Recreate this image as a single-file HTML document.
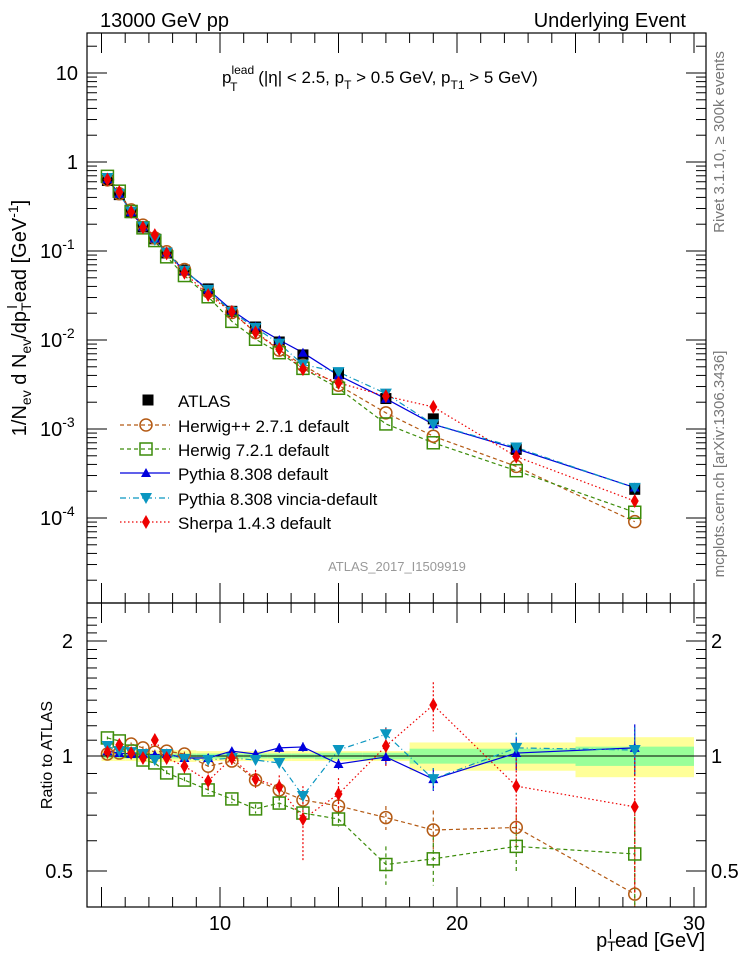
<!DOCTYPE html>
<html><head><meta charset="utf-8"><style>
html,body{margin:0;padding:0;background:#fff;overflow:hidden;}
svg{display:block;font-family:"Liberation Sans",Arial,sans-serif;}
</style></head><body>
<svg id="chart" width="746" height="972" viewBox="0 0 746 972">
<rect width="746" height="972" fill="#fff"/>
<g id="bands"></g>
<g id="lines"></g>
<g id="marks"></g>
<g id="axes"></g>
<text x="100" y="27" font-size="20">13000 GeV pp</text>
<text x="686" y="27" font-size="20" text-anchor="end">Underlying Event</text>
<text x="222" y="83" font-size="17">p<tspan font-size="12" dy="-9">lead</tspan><tspan font-size="12" dx="-24" dy="17">T</tspan><tspan dy="-8" dx="16"> (|η| &lt; 2.5, p</tspan><tspan font-size="12" dy="6">T</tspan><tspan dy="-6"> &gt; 0.5 GeV, p</tspan><tspan font-size="12" dy="6">T1</tspan><tspan dy="-6"> &gt; 5 GeV)</tspan></text>
<text transform="translate(26,318) rotate(-90)" font-size="20" text-anchor="middle">1/N<tspan font-size="14" dy="5">ev</tspan><tspan dy="-5"> d N</tspan><tspan font-size="14" dy="5">ev</tspan><tspan dy="-5">/dp</tspan><tspan font-size="14" dy="5">T</tspan><tspan font-size="14" dy="-14" dx="-6">l</tspan><tspan dy="9" dx="3">ead [GeV</tspan><tspan font-size="14" dy="-8">-1</tspan><tspan dy="8">]</tspan></text>
<text transform="translate(52,755) rotate(-90)" font-size="16" text-anchor="middle">Ratio to ATLAS</text>
<text x="705" y="947" font-size="20" text-anchor="end">p<tspan font-size="14" dy="4">T</tspan><tspan font-size="14" dy="-12" dx="-7">l</tspan><tspan dy="8" dx="3">ead [GeV]</tspan></text>
<text transform="translate(724,142) rotate(-90)" font-size="15" fill="#777" text-anchor="middle">Rivet 3.1.10, ≥ 300k events</text>
<text transform="translate(724,464) rotate(-90)" font-size="15" fill="#777" text-anchor="middle">mcplots.cern.ch [arXiv:1306.3436]</text>
<text x="397" y="571" font-size="13" fill="#999" text-anchor="middle">ATLAS_2017_I1509919</text>
<g id="legend"></g>
</svg>
<script>
const binX = [5.25,5.75,6.25,6.75,7.25,7.75,8.5,9.5,10.5,11.5,12.5,13.5,15,17,19,22.5,27.5];
const binEdges = [5,5.5,6,6.5,7,7.5,8,9,10,11,12,13,14,16,18,20,25,30];
const atlas = [0.62,0.43,0.27,0.186,0.137,0.095,0.061,0.0375,0.021,0.014,0.0095,0.0068,0.0042,0.0022,0.0013,0.00059,0.00021];
const bandTotal = [0.03,0.03,0.03,0.035,0.035,0.035,0.035,0.03,0.03,0.03,0.03,0.03,0.03,0.03,0.085,0.085,0.12];
const bandStat = [0.015,0.015,0.015,0.015,0.015,0.015,0.015,0.015,0.015,0.015,0.015,0.015,0.02,0.02,0.045,0.045,0.058];
const herwigppMain = [0.63,0.44,0.29,0.195,0.14,0.098,0.062,0.035,0.0204,0.0121,0.0077,0.0052,0.0031,0.00152,0.00083,0.00038,0.000091];
const herwig7Main = [0.69,0.47,0.278,0.182,0.131,0.086,0.053,0.0306,0.0162,0.0102,0.0072,0.0048,0.00287,0.00114,0.0007,0.00034,0.000116];
const pythiaMain = [0.64,0.44,0.273,0.188,0.138,0.096,0.060,0.037,0.0216,0.0142,0.0100,0.0072,0.0040,0.00219,0.00113,0.0006,0.00022];
const vinciaMain = [0.66,0.44,0.276,0.188,0.134,0.096,0.060,0.0366,0.0207,0.0137,0.0091,0.0053,0.00436,0.0025,0.00113,0.00062,0.000218];
const sherpaMain = [0.635,0.46,0.275,0.184,0.151,0.094,0.057,0.032,0.0207,0.0122,0.0079,0.0047,0.0033,0.00234,0.00177,0.00049,0.000155];
const herwigppRatio = [1.012,1.018,1.075,1.05,1.024,1.03,1.012,0.94,0.97,0.865,0.815,0.767,0.74,0.69,0.64,0.65,0.435];
const herwig7Ratio = [1.115,1.095,1.03,0.976,0.959,0.903,0.865,0.815,0.772,0.727,0.753,0.709,0.684,0.52,0.538,0.58,0.554];
const pythiaRatio = [1.03,1.018,1.012,1.012,1.006,1.012,0.988,0.988,1.03,1.012,1.05,1.056,0.953,0.994,0.87,1.018,1.05];
const vinciaRatio = [1.062,1.03,1.024,1.012,0.976,1.012,0.982,0.976,0.988,0.976,0.959,0.786,1.037,1.14,0.87,1.05,1.037];
const sherpaRatio = [1.024,1.069,1.018,0.988,1.101,0.988,0.94,0.86,0.988,0.87,0.83,0.684,0.795,1.062,1.36,0.834,0.736];
const herwigppErr = [0.01,0.01,0.01,0.01,0.015,0.015,0.015,0.02,0.02,0.02,0.03,0.03,0.03,0.05,0.08,0.08,0.25];
const herwig7Err = [0.01,0.01,0.01,0.01,0.015,0.015,0.015,0.02,0.02,0.02,0.03,0.03,0.03,0.06,0.08,0.08,0.2];
const pythiaErr = [0.01,0.01,0.01,0.01,0.015,0.015,0.015,0.02,0.02,0.02,0.03,0.03,0.03,0.05,0.06,0.1,0.16];
const vinciaErr = [0.01,0.01,0.01,0.01,0.015,0.015,0.015,0.02,0.02,0.02,0.03,0.03,0.03,0.05,0.06,0.1,0.15];
const sherpaErr = [0.02,0.03,0.02,0.03,0.04,0.03,0.04,0.05,0.04,0.05,0.06,0.15,0.08,0.12,0.2,0.2,0.3];
const xTicks = [10,20,30];
const yMainTicks = [10,1,0.1,0.01,0.001,0.0001];
const yMainLabels = ["10","1","10|-1","10|-2","10|-3","10|-4"];
const yRatioTicks = [2,1,0.5];
const yRatioLabels = ["2","1","0.5"];

const NS='http://www.w3.org/2000/svg';
const L=87,R=706,T=33,MB=603,RB=907;
const sx=v=>101.5+(v-5)*23.7;
const syMain=v=>162-89*Math.log10(v);
const syRatio=v=>756-115*Math.log2(v);
const clampR=y=>Math.min(RB,Math.max(MB,y));
function mk(tag,attrs,parent){const e=document.createElementNS(NS,tag);for(const k in attrs)e.setAttribute(k,attrs[k]);parent.appendChild(e);return e;}
const axes=document.getElementById('axes'),bands=document.getElementById('bands'),lines=document.getElementById('lines'),marks=document.getElementById('marks'),legend=document.getElementById('legend');

for(let i=0;i<binX.length;i++){
  const x0=sx(binEdges[i]),x1=sx(binEdges[i+1]);
  const y=mk('rect',{x:x0,y:syRatio(1+bandTotal[i]),width:x1-x0,height:syRatio(1-bandTotal[i])-syRatio(1+bandTotal[i]),fill:'#ffff99'},bands);
  
  
  const g=mk('rect',{x:x0,y:syRatio(1+bandStat[i]),width:x1-x0,height:syRatio(1-bandStat[i])-syRatio(1+bandStat[i]),fill:'#99ff99'},bands);
  
  
}
mk('line',{x1:L,x2:R,y1:syRatio(1),y2:syRatio(1),stroke:'#000','stroke-width':1},bands);

mk('rect',{x:L,y:T,width:R-L,height:MB-T,fill:'none',stroke:'#000','stroke-width':1.2},axes);
mk('rect',{x:L,y:MB,width:R-L,height:RB-MB,fill:'none',stroke:'#000','stroke-width':1.2},axes);
for(let v=5;v<=30;v++){
  const big=v%5===0, X=sx(v);
  mk('line',{x1:X,x2:X,y1:MB,y2:MB-(big?20:10),stroke:'#000'},axes);
  mk('line',{x1:X,x2:X,y1:T,y2:T+(big?20:10),stroke:'#000'},axes);
  mk('line',{x1:X,x2:X,y1:RB,y2:RB-(big?20:10),stroke:'#000'},axes);
  mk('line',{x1:X,x2:X,y1:MB,y2:MB+(big?20:10),stroke:'#000'},axes);
}
xTicks.forEach(v=>{const t=mk('text',{x:sx(v),y:930,'font-size':20,'text-anchor':'middle'},axes);t.textContent=v;
  
  });
for(let d=-5;d<=1;d++){for(let m=1;m<=9;m++){const v=m*Math.pow(10,d);const Y=syMain(v);if(Y<T||Y>MB)continue;
  const len=m===1?20:10;mk('line',{x1:L,x2:L+len,y1:Y,y2:Y,stroke:'#000'},axes);mk('line',{x1:R,x2:R-len,y1:Y,y2:Y,stroke:'#000'},axes);}}
yMainTicks.forEach((v,i)=>{const p=yMainLabels[i].split('|');const t=mk('text',{x:p[1]?40:78,y:syMain(v)+7,'font-size':20,'text-anchor':p[1]?'start':'end'},axes);
  if(p[1]){t.textContent=p[0];const s=mk('tspan',{'font-size':14,dy:-9},t);s.textContent=p[1];}else t.textContent=p[0];
  
  });
[0.2,0.3,0.4,0.5,0.6,0.7,0.8,0.9,1,1.1,1.2,1.3,1.4,1.5,1.6,1.7,1.8,1.9,2,2.1,2.2,2.3].forEach(v=>{const Y=syRatio(v);if(Y<MB||Y>RB)return;
  const big=(v===0.5||v===1||v===2);const len=big?20:10;mk('line',{x1:L,x2:L+len,y1:Y,y2:Y,stroke:'#000'},axes);mk('line',{x1:R,x2:R-len,y1:Y,y2:Y,stroke:'#000'},axes);});
yRatioTicks.forEach((v,i)=>{[73,711].forEach((xx,j)=>{const t=mk('text',{x:xx,y:syRatio(v)+7,'font-size':20,'text-anchor':j?'start':'end'},axes);t.textContent=yRatioLabels[i];
  
  });});

const series=[
 {name:'herwigpp',main:herwigppMain,ratio:herwigppRatio,err:herwigppErr,color:'#b45a14',dash:'4,3',marker:'circle',label:'Herwig++ 2.7.1 default'},
 {name:'herwig7',main:herwig7Main,ratio:herwig7Ratio,err:herwig7Err,color:'#3c8c0a',dash:'4,3',marker:'square',label:'Herwig 7.2.1 default'},
 {name:'pythia',main:pythiaMain,ratio:pythiaRatio,err:pythiaErr,color:'#0000dd',dash:'',marker:'tri',label:'Pythia 8.308 default'},
 {name:'vincia',main:vinciaMain,ratio:vinciaRatio,err:vinciaErr,color:'#0a96c0',dash:'6,3,1,3',marker:'itri',label:'Pythia 8.308 vincia-default'},
 {name:'sherpa',main:sherpaMain,ratio:sherpaRatio,err:sherpaErr,color:'#ee0000',dash:'1.5,2.5',marker:'diamond',label:'Sherpa 1.4.3 default'}
];
function marker(type,x,y,color,parent){
  if(type==='circle')return mk('circle',{cx:x,cy:y,r:6,fill:'none',stroke:color,'stroke-width':1.5},parent);
  if(type==='square')return mk('rect',{x:x-6,y:y-6,width:12,height:12,fill:'none',stroke:color,'stroke-width':1.5},parent);
  if(type==='tri')return mk('path',{d:`M${x-5},${y+4}L${x+5},${y+4}L${x},${y-5}Z`,fill:color},parent);
  if(type==='itri')return mk('path',{d:`M${x-6},${y-5}L${x+6},${y-5}L${x},${y+6}Z`,fill:color},parent);
  if(type==='diamond')return mk('path',{d:`M${x},${y-7}L${x+4},${y}L${x},${y+7}L${x-4},${y}Z`,fill:color},parent);
  return mk('rect',{x:x-5.5,y:y-5.5,width:11,height:11,fill:color},parent);
}
binX.forEach((x,i)=>{const m=marker('sq',sx(x),syMain(atlas[i]),'#000',marks);
  
  });
series.forEach(s=>{
  const pm=binX.map((x,i)=>sx(x)+','+syMain(s.main[i])).join(' ');
  const l1=mk('polyline',{points:pm,fill:'none',stroke:s.color,'stroke-width':1.2,'stroke-dasharray':s.dash},lines);
  
  
  const pr=binX.map((x,i)=>sx(x)+','+syRatio(s.ratio[i])).join(' ');
  const l2=mk('polyline',{points:pr,fill:'none',stroke:s.color,'stroke-width':1.2,'stroke-dasharray':s.dash},lines);
  
  
  binX.forEach((x,i)=>{
    const X=sx(x);
    mk('line',{x1:X,x2:X,y1:clampR(syRatio(s.ratio[i]+s.err[i])),y2:clampR(syRatio(Math.max(0.05,s.ratio[i]-s.err[i]))),stroke:s.color,'stroke-width':1.2,'stroke-dasharray':s.dash==='4,3'?'4,3':(s.dash?'2,2':'')},lines);
    const m1=marker(s.marker,X,syMain(s.main[i]),s.color,marks);
    
    
    const m2=marker(s.marker,X,syRatio(s.ratio[i]),s.color,marks);
    
    
  });
});

const legY=[400,425,449,473,498,522];
marker('sq',148,legY[0],'#000',legend);
const at=mk('text',{x:178,y:legY[0]+7,'font-size':17},legend);at.textContent='ATLAS';


series.forEach((s,i)=>{const y=legY[i+1];
  mk('line',{x1:120,x2:170,y1:y,y2:y,stroke:s.color,'stroke-width':1.2,'stroke-dasharray':s.dash},legend);
  marker(s.marker,146,y,s.color,legend);
  const t=mk('text',{x:178,y:y+7,'font-size':17},legend);t.textContent=s.label;
  
  
});
</script>
</body></html>
